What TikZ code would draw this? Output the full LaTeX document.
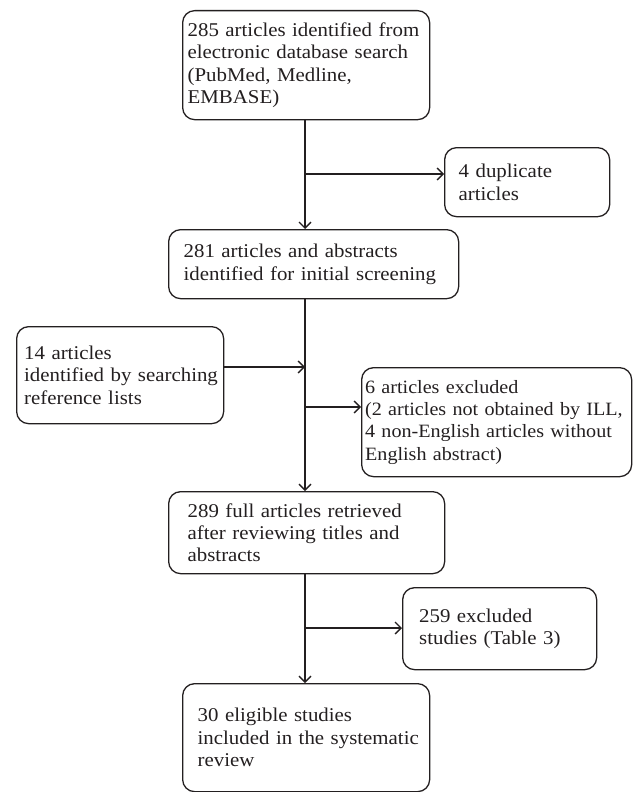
\documentclass[tikz,border=0pt]{standalone}
\usepackage{fontspec}
\setmainfont{Liberation Serif}[FakeStretch=1.07]
\usetikzlibrary{arrows.meta}
\definecolor{ink}{HTML}{231F20}
\newcommand{\fcline}[1]{\mbox{#1}}
\begin{document}
\begin{tikzpicture}[x=1pt,y=-1pt,
  box/.style={draw=ink, text=ink, line width=1.3pt, rounded corners=12pt, anchor=north west,
    align=left, inner ysep=0pt, font=\fontsize{19.5}{22.4}\selectfont},
  arr/.style={draw=ink, line width=1.3pt, -{Straight Barb[length=6pt,width=12pt,line width=1.3pt]}}]
\useasboundingbox (0,0) rectangle (632,792);
\node[box, text width=237pt, inner xsep=5pt, minimum height=109pt] (A) at (182,10)
  {\fcline{285 articles identified from}\\\fcline{electronic database search}\\\fcline{(PubMed, Medline,}\\\fcline{EMBASE)}};
\node[box, text width=137pt, inner xsep=14pt, minimum height=69pt] (B) at (444,147)
  {\fcline{4 duplicate}\\\fcline{articles}};
\node[box, text width=260pt, inner xsep=15pt, minimum height=69pt] (C) at (168,229)
  {\fcline{281 articles and abstracts}\\\fcline{identified for initial screening}};
\node[box, text width=192pt, inner xsep=7.5pt, minimum height=97pt] (D) at (16,326)
  {\fcline{14 articles}\\\fcline{identified by searching}\\\fcline{reference lists}};
\node[box, text width=263pt, inner xsep=3.5pt, minimum height=109pt, font=\fontsize{18.8}{22.4}\selectfont] (E) at (361,367)
  {\fcline{6 articles excluded}\\\fcline{(2 articles not obtained by ILL,}\\\fcline{4 non-English articles without}\\\fcline{English abstract)}};
\node[box, text width=238pt, inner xsep=19pt, minimum height=82pt] (F) at (168,491)
  {\fcline{289 full articles retrieved}\\\fcline{after reviewing titles and}\\\fcline{abstracts}};
\node[box, text width=161pt, inner xsep=16.5pt, minimum height=82pt] (G) at (402,587)
  {\fcline{259 excluded}\\\fcline{studies (Table 3)}};
\node[box, text width=217pt, inner xsep=15pt, minimum height=108pt] (H) at (182,683)
  {\fcline{30 eligible studies}\\\fcline{included in the systematic}\\\fcline{review}};
\coordinate (j1) at (305,174);
\coordinate (j2) at (305,367);
\coordinate (j3) at (305,407);
\coordinate (j4) at (305,628);
\coordinate (a1) at (305,119);
\coordinate (a2) at (305,298);
\coordinate (a3) at (305,573);
\draw[arr] (a1) -- (a1 |- C.north);
\draw[arr] (j1) -- (j1 -| B.west);
\draw[arr] (a2) -- (a2 |- F.north);
\draw[arr] (D.east |- j2) -- (j2);
\draw[arr] (j3) -- (j3 -| E.west);
\draw[arr] (a3) -- (a3 |- H.north);
\draw[arr] (j4) -- (j4 -| G.west);
\end{tikzpicture}
\end{document}
